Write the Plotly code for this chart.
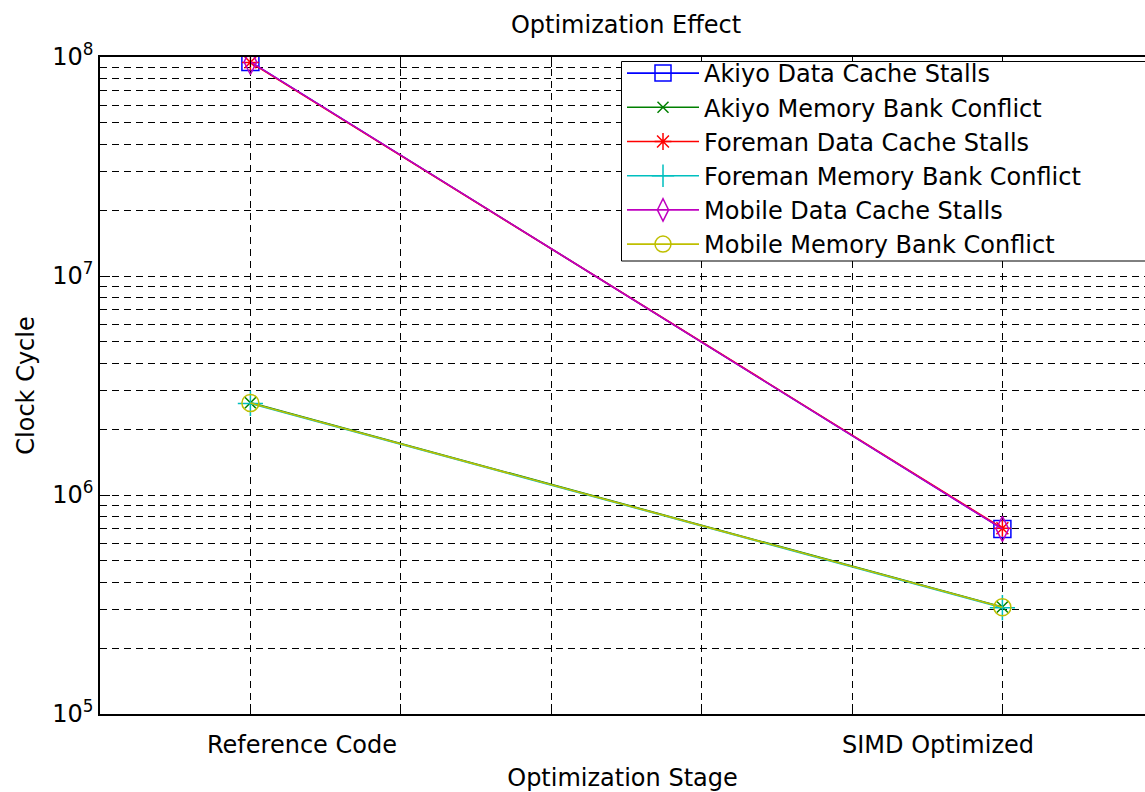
import plotly.graph_objects as go

stages = [1, 2]
stage_labels = ["Reference Code", "SIMD Optimized"]
stage_label_offset = [0.068, -0.086]

akiyo_dcs = [9.5e7, 7.0e5]
akiyo_mbc = [2.64e6, 3.08e5]
foreman_dcs = [9.45e7, 7.05e5]
foreman_mbc = [2.62e6, 3.06e5]
mobile_dcs = [9.5e7, 7.0e5]
mobile_mbc = [2.63e6, 3.07e5]

series_names = [
    "Akiyo Data Cache Stalls",
    "Akiyo Memory Bank Conflict",
    "Foreman Data Cache Stalls",
    "Foreman Memory Bank Conflict",
    "Mobile Data Cache Stalls",
    "Mobile Memory Bank Conflict",
]
series_values = [akiyo_dcs, akiyo_mbc, foreman_dcs, foreman_mbc, mobile_dcs, mobile_mbc]
colors = ["#0000FF", "#008000", "#FF0000", "#00BFBF", "#BF00BF", "#BFBF00"]
symbols = ["square-open", "x-thin-open", "asterisk-open", "cross-thin-open", "diamond-tall-open", "circle-open"]
sizes = [17, 11, 14, 18, 18, 17]

FONT = "DejaVu Sans, Verdana, sans-serif"
FS = 24

W, H = 1145, 792
ML, MR, MT, MB = 100, 0, 57, 78
PW, PH = W - ML - MR, H - MT - MB


def px_x(p):
    return (p - ML) / PW


def px_y(p):
    return (H - MB - p) / PH


fig = go.Figure()
for name, vals, c, s, sz in zip(series_names, series_values, colors, symbols, sizes):
    fig.add_trace(go.Scatter(
        x=stages, y=vals, name=name, mode="lines+markers",
        line=dict(color=c, width=1.6),
        marker=dict(symbol=s, size=sz, color=c, line=dict(color=c, width=1.5)),
    ))

x_ticks = [1, 1.2, 1.4, 1.6, 1.8, 2.0]

y_major = [1e5, 1e6, 1e7, 1e8]
y_major_text = ["10<sup>5</sup>", "10<sup>6</sup>", "10<sup>7</sup>", "10<sup>8</sup>"]
y_minor = [m * 10 ** e for e in range(5, 8) for m in range(2, 10)]

DASH = "7px,5px"

annotations = []
for st, lab, off in zip(stages, stage_labels, stage_label_offset):
    annotations.append(dict(
        x=st + off, xref="x", y=0, yref="paper", yshift=-31,
        text=lab, showarrow=False, xanchor="center", yanchor="middle",
        font=dict(size=FS, color="black", family=FONT),
    ))

# legend frame (extends past the right edge of the picture, as in the original)
legend_frame = dict(
    type="rect", xref="paper", yref="paper",
    x0=px_x(621.5), x1=px_x(W + 20), y0=px_y(261), y1=px_y(61.5),
    fillcolor="white", line=dict(color="black", width=1), layer="above",
)

fig.update_layout(
    width=W, height=H,
    margin=dict(l=ML, r=MR, t=MT, b=MB),
    paper_bgcolor="white", plot_bgcolor="white",
    font=dict(family=FONT, size=FS, color="black"),
    title=dict(text="Optimization Effect", x=626 / W, xref="container", xanchor="center",
               y=1 - 25 / H, yref="container", yanchor="middle",
               font=dict(size=FS, color="black", family=FONT)),
    showlegend=True,
    legend=dict(x=px_x(622), y=px_y(51), xanchor="left", yanchor="top",
                bgcolor="rgba(0,0,0,0)", borderwidth=0,
                font=dict(size=FS, color="black", family=FONT),
                itemwidth=72, tracegroupgap=0),
    shapes=[legend_frame],
    annotations=annotations,
    xaxis=dict(
        range=[0.8, 0.8 + PW / 752],
        tickmode="array", tickvals=x_ticks, ticktext=[""] * len(x_ticks),
        ticks="inside", ticklen=10, tickcolor="black", tickwidth=1.2,
        showline=True, linecolor="black", linewidth=1.5, mirror="ticks",
        showgrid=True, gridcolor="black", gridwidth=1, griddash=DASH,
        zeroline=False,
        tickfont=dict(size=FS, color="black", family=FONT),
        title=dict(text="Optimization Stage", standoff=50,
                   font=dict(size=FS, color="black", family=FONT)),
    ),
    yaxis=dict(
        type="log", range=[5, 8],
        tickmode="array", tickvals=y_major, ticktext=y_major_text,
        ticks="inside", ticklen=10, tickcolor="black", tickwidth=1.2,
        showline=True, linecolor="black", linewidth=1.5, mirror=False,
        showgrid=True, gridcolor="black", gridwidth=1, griddash=DASH,
        zeroline=False,
        minor=dict(tickmode="array", tickvals=y_minor, ticks="inside", ticklen=5,
                   tickcolor="black", showgrid=True, gridcolor="black",
                   gridwidth=1, griddash=DASH),
        tickfont=dict(size=FS, color="black", family=FONT),
        title=dict(text="Clock Cycle", standoff=11,
                   font=dict(size=FS, color="black", family=FONT)),
    ),
)

fig.write_html("out.html")
